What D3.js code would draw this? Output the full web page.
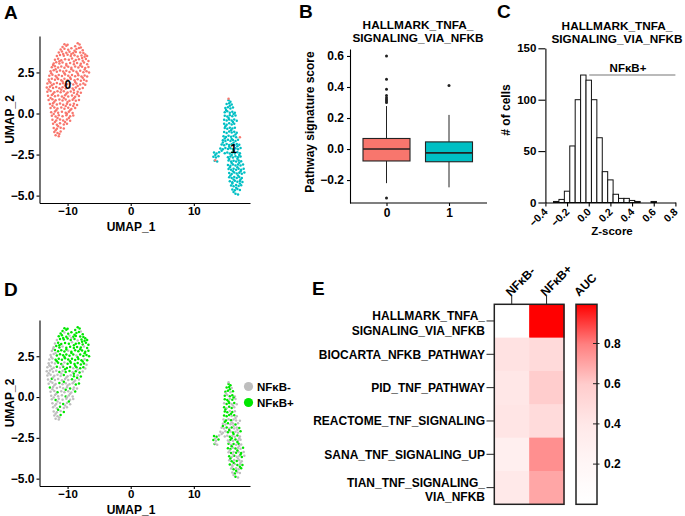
<!DOCTYPE html>
<html>
<head>
<meta charset="utf-8">
<script src="https://cdn.jsdelivr.net/npm/d3@7"></script>
<style>
  body { margin: 0; background: #fff; }
  svg text { font-family: "Liberation Sans", Arial, sans-serif; font-weight: bold; }
</style>
</head>
<body>
<script>
//------------------------1. DATA------------------------//
// UMAP cells: [UMAP_1, UMAP_2, NFkB+ flag]
const cluster0Cells = [
[-10.5,4.22,1],[-8.4,4.28,1],[-8.1,4.2,1],
[-10.8,4.05,1],[-10.2,4.12,1],[-8.8,4.1,1],[-7.9,4.02,0],
[-11.1,3.9,1],[-10.5,3.95,0],[-9.9,3.88,1],[-9.4,3.97,1],[-8.6,3.93,1],[-8.2,3.99,1],[-7.6,3.85,1],
[-11.4,3.72,1],[-10.9,3.78,1],[-10.2,3.7,1],[-9.7,3.76,0],[-9.1,3.69,1],[-8.7,3.74,1],[-8.0,3.71,1],[-7.5,3.68,1],[-7.2,3.6,1],
[-11.7,3.5,0],[-11.2,3.56,1],[-10.6,3.52,1],[-10.0,3.58,1],[-9.5,3.5,1],[-8.9,3.55,1],[-8.4,3.47,0],[-7.8,3.53,1],[-7.3,3.45,1],[-6.9,3.5,1],
[-12.0,3.28,0],[-11.5,3.33,1],[-11.0,3.25,1],[-10.4,3.31,1],[-9.8,3.27,1],[-9.3,3.35,0],[-8.7,3.26,1],[-8.2,3.3,1],[-7.6,3.22,1],[-7.1,3.32,1],[-6.7,3.2,1],
[-12.2,3.05,0],[-11.8,3.12,1],[-11.3,3.04,1],[-10.8,3.1,0],[-10.2,3.02,1],[-9.6,3.08,1],[-9.0,3.0,1],[-8.5,3.07,1],[-7.9,3.03,1],[-7.4,3.1,0],[-6.9,3.0,1],
[-12.5,2.82,0],[-12.0,2.88,1],[-11.5,2.8,1],[-11.0,2.86,1],[-10.5,2.79,1],[-9.9,2.84,0],[-9.4,2.78,1],[-8.8,2.86,1],[-8.3,2.8,1],[-7.7,2.85,1],[-7.2,2.77,1],[-6.7,2.83,1],
[-12.7,2.58,0],[-12.2,2.63,0],[-11.7,2.55,1],[-11.2,2.62,1],[-10.7,2.56,1],[-10.2,2.6,1],[-9.7,2.53,1],[-9.1,2.61,1],[-8.6,2.55,0],[-8.0,2.6,1],[-7.5,2.52,1],[-7.0,2.58,1],[-6.6,2.5,1],
[-12.9,2.3,0],[-12.4,2.36,0],[-11.9,2.28,1],[-11.4,2.35,1],[-10.9,2.29,1],[-10.4,2.37,1],[-9.9,2.3,1],[-9.3,2.34,1],[-8.8,2.27,1],[-8.3,2.33,1],[-7.8,2.26,1],[-7.3,2.32,0],[-6.9,2.25,1],
[-13.0,2.07,0],[-12.5,2.12,0],[-12.0,2.05,0],[-11.5,2.1,1],[-11.0,2.03,1],[-10.5,2.11,0],[-10.0,2.04,1],[-9.5,2.1,1],[-8.9,2.02,1],[-8.4,2.08,1],[-7.9,2.0,1],[-7.4,2.06,1],[-7.0,1.98,0],
[-13.2,1.82,0],[-12.7,1.88,0],[-12.2,1.8,0],[-11.7,1.86,1],[-11.2,1.79,0],[-10.7,1.85,1],[-10.1,1.78,1],[-9.6,1.84,1],[-9.1,1.77,0],[-8.6,1.83,1],[-8.0,1.76,1],[-7.5,1.82,1],[-7.2,1.75,0],
[-13.3,1.58,0],[-12.8,1.63,0],[-12.3,1.55,0],[-11.8,1.61,0],[-11.3,1.54,1],[-10.8,1.6,0],[-10.3,1.53,1],[-9.7,1.59,1],[-9.2,1.52,0],[-8.7,1.58,1],[-8.1,1.5,1],[-7.6,1.56,0],
[-13.2,1.32,0],[-12.7,1.37,0],[-12.1,1.3,0],[-11.6,1.36,0],[-11.1,1.29,0],[-10.6,1.35,1],[-10.0,1.28,0],[-9.5,1.34,0],[-9.0,1.27,1],[-8.4,1.33,0],[-7.9,1.26,1],
[-13.1,1.08,0],[-12.5,1.12,1],[-12.0,1.05,0],[-11.5,1.1,0],[-10.9,1.03,0],[-10.4,1.11,0],[-9.9,1.04,0],[-9.3,1.09,1],[-8.8,1.02,0],[-8.2,1.07,0],
[-13.0,0.82,0],[-12.4,0.87,0],[-11.9,0.8,0],[-11.3,0.86,1],[-10.8,0.79,0],[-10.3,0.85,0],[-9.7,0.78,0],[-9.2,0.84,0],[-8.7,0.77,1],[-8.2,0.83,1],
[-12.8,0.58,1],[-12.3,0.62,0],[-11.7,0.55,0],[-11.2,0.61,0],[-10.7,0.54,0],[-10.1,0.6,0],[-9.6,0.53,1],[-9.0,0.59,0],[-8.5,0.52,0],
[-12.7,0.33,0],[-12.1,0.37,0],[-11.6,0.3,1],[-11.0,0.36,0],[-10.5,0.29,0],[-9.9,0.35,0],[-9.4,0.28,0],[-8.8,0.34,1],
[-12.6,0.08,0],[-12.0,0.12,0],[-11.5,0.05,0],[-10.9,0.11,0],[-10.3,0.04,1],[-9.8,0.1,0],[-9.2,0.03,0],
[-12.5,-0.13,0],[-11.9,-0.18,1],[-11.4,-0.1,0],[-10.8,-0.16,0],[-10.2,-0.11,0],[-9.6,-0.17,0],[-9.1,-0.12,0],
[-12.4,-0.38,0],[-11.8,-0.43,0],[-11.2,-0.36,0],[-10.7,-0.42,1],[-10.1,-0.37,0],[-9.6,-0.44,0],
[-12.3,-0.63,0],[-11.7,-0.68,0],[-11.2,-0.6,1],[-10.6,-0.67,0],[-10.1,-0.62,0],
[-12.2,-0.88,0],[-11.7,-0.93,0],[-11.1,-0.86,0],[-10.6,-0.92,1],
[-12.1,-1.13,0],[-11.6,-1.18,0],[-11.1,-1.1,1],
[-11.9,-1.33,0],[-11.4,-1.38,0],
[-10.0,4.18,1],[-8.9,3.82,1],[-10.7,3.62,1],[-9.4,3.62,0],[-7.7,3.38,1],[-11.3,3.18,1],[-9.0,3.17,1],[-12.3,2.95,0],[-10.2,2.92,1],[-8.0,2.93,1],
[-11.9,2.7,0],[-9.4,2.7,1],[-7.3,2.68,1],[-12.6,2.45,0],[-10.5,2.45,1],[-8.4,2.44,1],[-11.7,2.2,1],[-9.6,2.2,1],[-7.6,2.17,1],[-12.9,1.95,0],
[-10.8,1.95,0],[-8.8,1.92,1],[-12.5,1.72,0],[-10.4,1.7,1],[-8.4,1.68,0],[-13.0,1.46,0],[-11.0,1.44,0],[-9.0,1.43,1],[-12.3,1.2,0],[-10.2,1.2,0],
[-8.5,1.18,1],[-12.7,0.95,0],[-10.6,0.94,1],[-9.0,0.93,0],[-12.1,0.72,0],[-10.0,0.7,0],[-12.4,0.47,0],[-10.3,0.45,1],[-9.1,0.46,0],[-11.8,0.2,0],
[-9.6,0.2,0],[-12.2,-0.03,0],[-10.1,-0.02,0],[-11.6,-0.27,0],[-9.8,-0.28,1],[-12.0,-0.52,0],[-10.4,-0.52,0],[-11.5,-0.78,1],[-11.9,-1.02,0],[-11.3,-1.25,0],
[15.5,0.9,0],[17.3,-1.45,0],[13.4,-2.85,0]
];
const cluster1Cells = [
[15.5,0.8,1],[15.8,0.72,1],
[15.2,0.58,1],[15.6,0.62,1],[16.0,0.55,0],
[15.0,0.33,1],[15.4,0.38,1],[15.8,0.3,0],[16.2,0.36,1],
[14.9,0.08,1],[15.3,0.13,0],[15.7,0.05,1],[16.1,0.11,1],[16.5,0.04,0],
[14.9,-0.13,1],[15.3,-0.18,1],[15.7,-0.1,0],[16.1,-0.16,1],[16.6,-0.12,0],
[14.8,-0.38,0],[15.2,-0.43,1],[15.6,-0.36,1],[16.0,-0.42,0],[16.4,-0.37,1],[16.8,-0.44,0],
[14.8,-0.63,1],[15.2,-0.68,0],[15.6,-0.6,1],[16.0,-0.67,1],[16.4,-0.62,0],
[14.9,-0.88,1],[15.3,-0.93,1],[15.7,-0.86,0],[16.1,-0.92,1],[16.5,-0.87,0],
[14.8,-1.13,1],[15.2,-1.18,1],[15.6,-1.1,1],[16.0,-1.16,0],[16.4,-1.11,1],[16.8,-1.17,0],
[14.7,-1.38,0],[15.1,-1.43,1],[15.5,-1.36,0],[15.9,-1.42,1],[16.3,-1.37,0],[16.7,-1.44,0],
[14.6,-1.63,0],[15.0,-1.68,0],[15.4,-1.6,1],[15.8,-1.67,0],[16.2,-1.62,0],[16.6,-1.68,1],[17.0,-1.6,0],
[14.4,-1.88,0],[14.8,-1.93,0],[15.2,-1.86,1],[15.6,-1.92,0],[16.0,-1.87,1],[16.4,-1.93,0],[16.8,-1.86,0],[17.2,-1.9,1],
[14.2,-2.13,0],[14.6,-2.18,0],[15.0,-2.1,0],[15.4,-2.16,1],[15.8,-2.11,0],[16.2,-2.17,1],[16.6,-2.12,0],[17.0,-2.18,0],[17.4,-2.1,1],
[13.2,-2.38,1],[13.6,-2.43,1],[14.0,-2.36,0],[14.9,-2.42,0],[15.3,-2.37,0],[15.7,-2.44,1],[16.1,-2.38,0],[16.5,-2.43,0],[16.9,-2.36,1],[17.3,-2.42,0],
[13.1,-2.63,1],[13.5,-2.68,0],[13.9,-2.6,1],[15.4,-2.67,0],[15.8,-2.62,1],[16.2,-2.68,0],[16.6,-2.6,1],[17.0,-2.66,0],[17.4,-2.62,0],
[13.3,-2.88,1],[13.7,-2.92,0],[15.5,-2.86,1],[15.9,-2.92,0],[16.3,-2.87,1],[16.7,-2.93,0],[17.1,-2.86,1],[17.5,-2.9,0],
[15.4,-3.13,1],[15.8,-3.18,1],[16.2,-3.1,0],[16.6,-3.16,1],[17.0,-3.11,0],[17.4,-3.17,0],[17.8,-3.1,1],
[15.5,-3.38,0],[15.9,-3.43,1],[16.3,-3.36,0],[16.7,-3.42,1],[17.1,-3.37,0],[17.5,-3.43,1],[17.9,-3.36,0],
[15.6,-3.63,1],[16.0,-3.68,0],[16.4,-3.6,1],[16.8,-3.66,0],[17.2,-3.61,0],[17.6,-3.67,1],[18.0,-3.6,0],
[15.6,-3.88,0],[16.0,-3.93,1],[16.4,-3.86,0],[16.8,-3.92,1],[17.2,-3.87,0],[17.6,-3.93,0],
[15.7,-4.13,1],[16.1,-4.18,0],[16.5,-4.1,0],[16.9,-4.16,1],[17.3,-4.11,0],[17.7,-4.17,1],
[15.9,-4.38,0],[16.3,-4.43,1],[16.7,-4.36,0],[17.1,-4.42,0],[17.5,-4.37,1],
[16.1,-4.63,0],[16.5,-4.68,1],[16.9,-4.6,0],[17.3,-4.66,0],
[16.6,-4.88,1],[17.0,-4.93,0],
[15.7,0.47,1],[15.1,0.22,0],[16.3,-0.03,1],[15.5,-0.27,1],[16.2,-0.52,0],[15.0,-0.77,1],[15.9,-1.02,1],[16.6,-1.28,0],[14.9,-1.52,1],[16.0,-1.55,0],
[14.6,-1.77,1],[16.3,-1.78,0],[15.6,-2.02,1],[16.9,-2.0,0],[14.4,-2.27,0],[16.3,-2.27,1],[13.4,-2.52,0],[16.0,-2.52,1],[17.2,-2.52,0],[15.6,-2.77,0],
[16.9,-2.76,1],[16.0,-3.02,1],[17.2,-3.0,0],[15.7,-3.27,0],[16.9,-3.28,1],[16.2,-3.52,0],[17.4,-3.52,1],[15.8,-3.77,1],[17.0,-3.77,0],[16.3,-4.02,1],
[17.4,-4.02,0],[16.1,-4.27,0],[17.3,-4.27,1],[16.7,-4.52,1],[16.3,-4.78,0]
];
const clusterNames = ["0", "1"];
const clusterLabelPos = [[-9.95, 1.75], [16.3, -2.15]];
const umapXTicks = [-10, 0, 10];
const umapYTicks = [-5, -2.5, 0, 2.5];

// boxplot (panel B)
const boxGroups = ["0", "1"];
const boxLow = [-0.22, -0.247];
const boxQ1 = [-0.077, -0.082];
const boxMedian = [0.0, -0.025];
const boxQ3 = [0.068, 0.046];
const boxHigh = [0.277, 0.22];
const outliers0 = [0.6, 0.45, 0.385, 0.345, 0.33, 0.32, 0.31, 0.3, -0.315];
const outliers1 = [0.41];
const boxYTicks = [-0.2, 0, 0.2, 0.4, 0.6];

// histogram (panel C)
const histBinStart = [-0.325, -0.275, -0.225, -0.175, -0.125, -0.075, -0.025, 0.025, 0.075, 0.125, 0.175, 0.225, 0.275, 0.325, 0.375, 0.425, 0.475, 0.525, 0.575];
const histCounts = [1, 3, 11, 55, 100, 124, 119, 100, 63, 30, 22, 8, 4, 4, 2, 1, 0, 0, 1];
const histBinWidth = 0.05;
const histXTicks = [-0.4, -0.2, 0, 0.2, 0.4, 0.6, 0.8];
const histYTicks = [0, 50, 100, 150];
const nfkbCut = [0.005, 0.8];
const nfkbCutCount = 124;

// AUC heatmap (panel E)
const pathwayLabels = [
  ["HALLMARK_TNFA_", "SIGNALING_VIA_NFKB"],
  ["BIOCARTA_NFKB_PATHWAY"],
  ["PID_TNF_PATHWAY"],
  ["REACTOME_TNF_SIGNALING"],
  ["SANA_TNF_SIGNALING_UP"],
  ["TIAN_TNF_SIGNALING_", "VIA_NFKB"]
];
const heatGroups = ["NF\u03BAB-", "NF\u03BAB+"];
const aucNeg = [0.0, 0.44, 0.41, 0.42, 0.3, 0.39];
const aucPos = [1.0, 0.5, 0.59, 0.49, 0.76, 0.7];
const aucTicks = [0.2, 0.4, 0.6, 0.8];

//------------------------2. SVG------------------------//
const width = 685;
const height = 516;
const salmon = "#F8766D";
const teal = "#00BFC4";
const grey = "#BEBEBE";
const green = "#00E600";
const fmtMinus = s => s.replace("-", "\u2212");
const fmt1 = v => fmtMinus(d3.format(".1f")(v));

const svg = d3.select("body").append("svg")
  .attr("width", width)
  .attr("height", height);

// panel letters
[["A", 4, 19], ["B", 299, 18], ["C", 497, 18], ["D", 4, 296], ["E", 312, 295]].forEach(function (p) {
  svg.append("text").attr("x", p[1]).attr("y", p[2])
    .style("font-size", "19px").text(p[0]);
});

function styleAxis(g, size) {
  g.selectAll("path, line").attr("stroke", "#000").attr("stroke-width", 1.1);
  g.selectAll("text").attr("fill", "#000").style("font-size", size + "px")
    .style("font-family", "'Liberation Sans', Arial, sans-serif").style("font-weight", "bold");
}

//------------------------3. UMAP PANELS (A, D)------------------------//
function umapPanel(top, bottom, colorFn, cells) {
  const g = svg.append("g");
  const x = d3.scaleLinear().domain([-14.45, 18.9]).range([39.5, 250]);
  const y = d3.scaleLinear().domain([-5.45, 4.72]).range([bottom, top]);

  g.selectAll("circle.cell")
    .data(cells)
    .enter().append("circle")
    .attr("class", "cell")
    .attr("cx", d => x(d[0]))
    .attr("cy", d => y(d[1]))
    .attr("r", 1.25)
    .attr("fill", colorFn);

  const xa = g.append("g").attr("transform", "translate(0," + bottom + ")")
    .call(d3.axisBottom(x).tickValues(umapXTicks).tickSize(3).tickSizeOuter(0).tickPadding(1)
      .tickFormat(d => fmtMinus(String(d))));
  styleAxis(xa, 11.5);
  const ya = g.append("g").attr("transform", "translate(39.5,0)")
    .call(d3.axisLeft(y).tickValues(umapYTicks).tickSize(3).tickSizeOuter(0).tickPadding(2).tickFormat(fmt1));
  styleAxis(ya, 12);

  g.append("text").attr("x", 131).attr("y", bottom + 27.5)
    .attr("text-anchor", "middle").style("font-size", "12px").text("UMAP_1");
  g.append("text").attr("transform", "translate(14," + ((top + bottom) / 2) + ") rotate(-90)")
    .attr("text-anchor", "middle").style("font-size", "12px").text("UMAP_2");
  return { x: x, y: y, g: g };
}

// Panel A: coloured by cluster
const cellsA = cluster1Cells.map(d => [d[0], d[1], d[2], 1]).concat(cluster0Cells.map(d => [d[0], d[1], d[2], 0]));
const pa = umapPanel(36, 203, d => d[3] === 1 ? teal : salmon, cellsA);
clusterNames.forEach(function (n, i) {
  pa.g.append("text")
    .attr("x", pa.x(clusterLabelPos[i][0]))
    .attr("y", pa.y(clusterLabelPos[i][1]))
    .attr("dy", "0.35em")
    .attr("text-anchor", "middle")
    .style("font-size", "12px")
    .text(n);
});

// Panel D: coloured by NFkB status
const cellsD = [];
const n0 = cluster0Cells.length, n1 = cluster1Cells.length;
for (let i = 0; i < Math.max(n0, n1); i++) {
  if (i < n0) cellsD.push(cluster0Cells[i]);
  if (i < n1) cellsD.push(cluster1Cells[i]);
}
umapPanel(320, 486, d => d[2] === 1 ? green : grey, cellsD);

// legend D
[["NF\u03BAB-", grey, 386.5], ["NF\u03BAB+", green, 402.5]].forEach(function (l) {
  svg.append("circle").attr("cx", 248.5).attr("cy", l[2]).attr("r", 4.6).attr("fill", l[1]);
  svg.append("text").attr("x", 257).attr("y", l[2]).attr("dy", "0.35em")
    .style("font-size", "11.5px").text(l[0]);
});

//------------------------4. BOXPLOT (B)------------------------//
const xB = d3.scalePoint().domain(boxGroups).range([386.5, 449]);
const yB = d3.scaleLinear().domain([-0.348, 0.645]).range([203, 49]);
const boxW = 47;
const gB = svg.append("g");

boxGroups.forEach(function (grp, i) {
  const cx = xB(grp);
  gB.append("line").attr("x1", cx).attr("x2", cx)
    .attr("y1", yB(boxQ3[i])).attr("y2", yB(boxHigh[i])).attr("stroke", "#222").attr("stroke-width", 1);
  gB.append("line").attr("x1", cx).attr("x2", cx)
    .attr("y1", yB(boxQ1[i])).attr("y2", yB(boxLow[i])).attr("stroke", "#222").attr("stroke-width", 1);
  gB.append("rect")
    .attr("x", cx - boxW / 2).attr("width", boxW)
    .attr("y", yB(boxQ3[i])).attr("height", yB(boxQ1[i]) - yB(boxQ3[i]))
    .attr("fill", i === 0 ? salmon : teal).attr("stroke", "#222").attr("stroke-width", 1.1);
  gB.append("line").attr("x1", cx - boxW / 2).attr("x2", cx + boxW / 2)
    .attr("y1", yB(boxMedian[i])).attr("y2", yB(boxMedian[i])).attr("stroke", "#222").attr("stroke-width", 1.6);
  const outs = i === 0 ? outliers0 : outliers1;
  gB.selectAll(null).data(outs).enter().append("circle")
    .attr("cx", cx).attr("cy", d => yB(d)).attr("r", 1.5).attr("fill", "#222");
});

const xaB = gB.append("g").attr("transform", "translate(0,203)")
  .call(d3.axisBottom(xB).tickSize(3).tickSizeOuter(0).tickPadding(2));
xaB.select(".domain").remove();
styleAxis(xaB, 12);
gB.append("line").attr("x1", 350).attr("x2", 487).attr("y1", 203).attr("y2", 203)
  .attr("stroke", "#000").attr("stroke-width", 1.1);
const yaB = gB.append("g").attr("transform", "translate(350,0)")
  .call(d3.axisLeft(yB).tickValues(boxYTicks).tickSize(3).tickSizeOuter(0).tickPadding(3).tickFormat(fmt1));
styleAxis(yaB, 12);

gB.append("text").attr("transform", "translate(314,122) rotate(-90)")
  .attr("text-anchor", "middle").style("font-size", "12px").text("Pathway signature score");
gB.append("text").attr("x", 418).attr("y", 29).attr("text-anchor", "middle")
  .style("font-size", "11.8px").text("HALLMARK_TNFA_");
gB.append("text").attr("x", 418).attr("y", 42).attr("text-anchor", "middle")
  .style("font-size", "11.8px").text("SIGNALING_VIA_NFKB");

//------------------------5. HISTOGRAM (C)------------------------//
const xC = d3.scaleLinear().domain([-0.4, 0.8]).range([545.4, 675.4]);
const yC = d3.scaleLinear().domain([0, 150]).range([202.5, 48.3]);
const gC = svg.append("g");
const bins = histCounts.map((c, i) => ({ x0: histBinStart[i], n: c })).filter(d => d.n > 0);

gC.selectAll("rect.bin")
  .data(bins)
  .enter().append("rect")
  .attr("class", "bin")
  .attr("x", d => xC(d.x0))
  .attr("width", xC(histBinWidth) - xC(0))
  .attr("y", d => yC(d.n))
  .attr("height", d => yC(0) - yC(d.n))
  .attr("fill", "#fff").attr("stroke", "#111").attr("stroke-width", 1);

const xaC = gC.append("g").attr("transform", "translate(0," + yC(0) + ")")
  .call(d3.axisBottom(xC).tickValues(histXTicks).tickSize(4).tickSizeOuter(0).tickFormat(""));
styleAxis(xaC, 11);
histXTicks.forEach(function (t) {
  gC.append("text")
    .attr("transform", "translate(" + (xC(t) + 3) + "," + (yC(0) + 10) + ") rotate(-45)")
    .attr("text-anchor", "end")
    .style("font-size", "10.5px")
    .text(fmt1(t));
});
const yaC = gC.append("g").attr("transform", "translate(545.4,0)")
  .call(d3.axisLeft(yC).tickValues(histYTicks).tickSize(7).tickSizeOuter(0).tickPadding(2));
styleAxis(yaC, 11.5);

gC.append("line").attr("x1", xC(nfkbCut[0])).attr("x2", xC(nfkbCut[1]))
  .attr("y1", yC(nfkbCutCount)).attr("y2", yC(nfkbCutCount))
  .attr("stroke", "#777").attr("stroke-width", 1.1);
gC.append("text").attr("x", 628).attr("y", 72).attr("text-anchor", "middle")
  .style("font-size", "11.5px").text("NF\u03BAB+");
gC.append("text").attr("transform", "translate(510,110) rotate(-90)")
  .attr("text-anchor", "middle").style("font-size", "12px").text("# of cells");
gC.append("text").attr("x", 612).attr("y", 235).attr("text-anchor", "middle")
  .style("font-size", "11.5px").text("Z-score");
gC.append("text").attr("x", 617).attr("y", 30).attr("text-anchor", "middle")
  .style("font-size", "11.8px").text("HALLMARK_TNFA_");
gC.append("text").attr("x", 617).attr("y", 43).attr("text-anchor", "middle")
  .style("font-size", "11.8px").text("SIGNALING_VIA_NFKB");

//------------------------6. HEATMAP (E)------------------------//
const rowIdx = pathwayLabels.map((d, i) => i);
const yE = d3.scaleBand().domain(rowIdx).range([304.3, 504.3]);
const xE = d3.scaleBand().domain(heatGroups).range([494.3, 564]);
const aucColor = d3.scaleLinear()
  .domain([0, 0.2, 0.4, 0.6, 0.8, 1])
  .range(["#ffffff", "#fff6f6", "#ffe8e8", "#ffcccc", "#ff8080", "#ff0000"]);
const gE = svg.append("g");

const cells = [];
rowIdx.forEach(function (r) {
  cells.push({ row: r, grp: heatGroups[0], v: aucNeg[r] });
  cells.push({ row: r, grp: heatGroups[1], v: aucPos[r] });
});
gE.selectAll("rect.cell")
  .data(cells)
  .enter().append("rect")
  .attr("class", "cell")
  .attr("x", d => xE(d.grp))
  .attr("y", d => yE(d.row))
  .attr("width", xE.bandwidth() + 0.5)
  .attr("height", yE.bandwidth() + 0.5)
  .attr("fill", d => aucColor(d.v));
gE.append("rect").attr("x", 494.3).attr("y", 304.3).attr("width", 69.7).attr("height", 200)
  .attr("fill", "none").attr("stroke", "#222").attr("stroke-width", 1.5);

// row ticks & labels
rowIdx.forEach(function (r) {
  const cy = yE(r) + yE.bandwidth() / 2;
  gE.append("line").attr("x1", 486.5).attr("x2", 494.3).attr("y1", cy).attr("y2", cy)
    .attr("stroke", "#222").attr("stroke-width", 1);
  const lines = pathwayLabels[r];
  lines.forEach(function (t, k) {
    const off = lines.length === 1 ? 0 : (k === 0 ? -5 : 9.5);
    gE.append("text").attr("x", 485).attr("y", cy + off).attr("dy", "0.35em")
      .attr("text-anchor", "end").style("font-size", "12px").text(t);
  });
});
// column ticks & labels
heatGroups.forEach(function (g) {
  const cx = xE(g) + xE.bandwidth() / 2;
  gE.append("line").attr("x1", cx).attr("x2", cx).attr("y1", 296).attr("y2", 304.3)
    .attr("stroke", "#222").attr("stroke-width", 1);
  gE.append("text").attr("transform", "translate(" + (cx - 1) + ",297) rotate(-45)")
    .attr("text-anchor", "start").style("font-size", "12px").text(g);
});

// colour bar
const yBar = d3.scaleLinear().domain([0, 0.995]).range([504.3, 304.3]);
const grad = svg.append("defs").append("linearGradient")
  .attr("id", "aucGrad").attr("x1", 0).attr("x2", 0).attr("y1", 1).attr("y2", 0);
d3.range(0, 1.0001, 0.05).forEach(function (t) {
  grad.append("stop").attr("offset", t).attr("stop-color", aucColor(t));
});
gE.append("rect").attr("x", 576).attr("y", 304.3).attr("width", 21).attr("height", 200)
  .attr("fill", "url(#aucGrad)").attr("stroke", "#222").attr("stroke-width", 1.5);
aucTicks.forEach(function (t) {
  gE.append("line").attr("x1", 593).attr("x2", 599.5).attr("y1", yBar(t)).attr("y2", yBar(t))
    .attr("stroke", "#222").attr("stroke-width", 1);
  gE.append("text").attr("x", 604).attr("y", yBar(t)).attr("dy", "0.35em")
    .style("font-size", "12px").text(t.toFixed(1));
});
gE.append("text").attr("transform", "translate(579,297) rotate(-45)")
  .style("font-size", "12px").text("AUC");
</script>
</body>
</html>
